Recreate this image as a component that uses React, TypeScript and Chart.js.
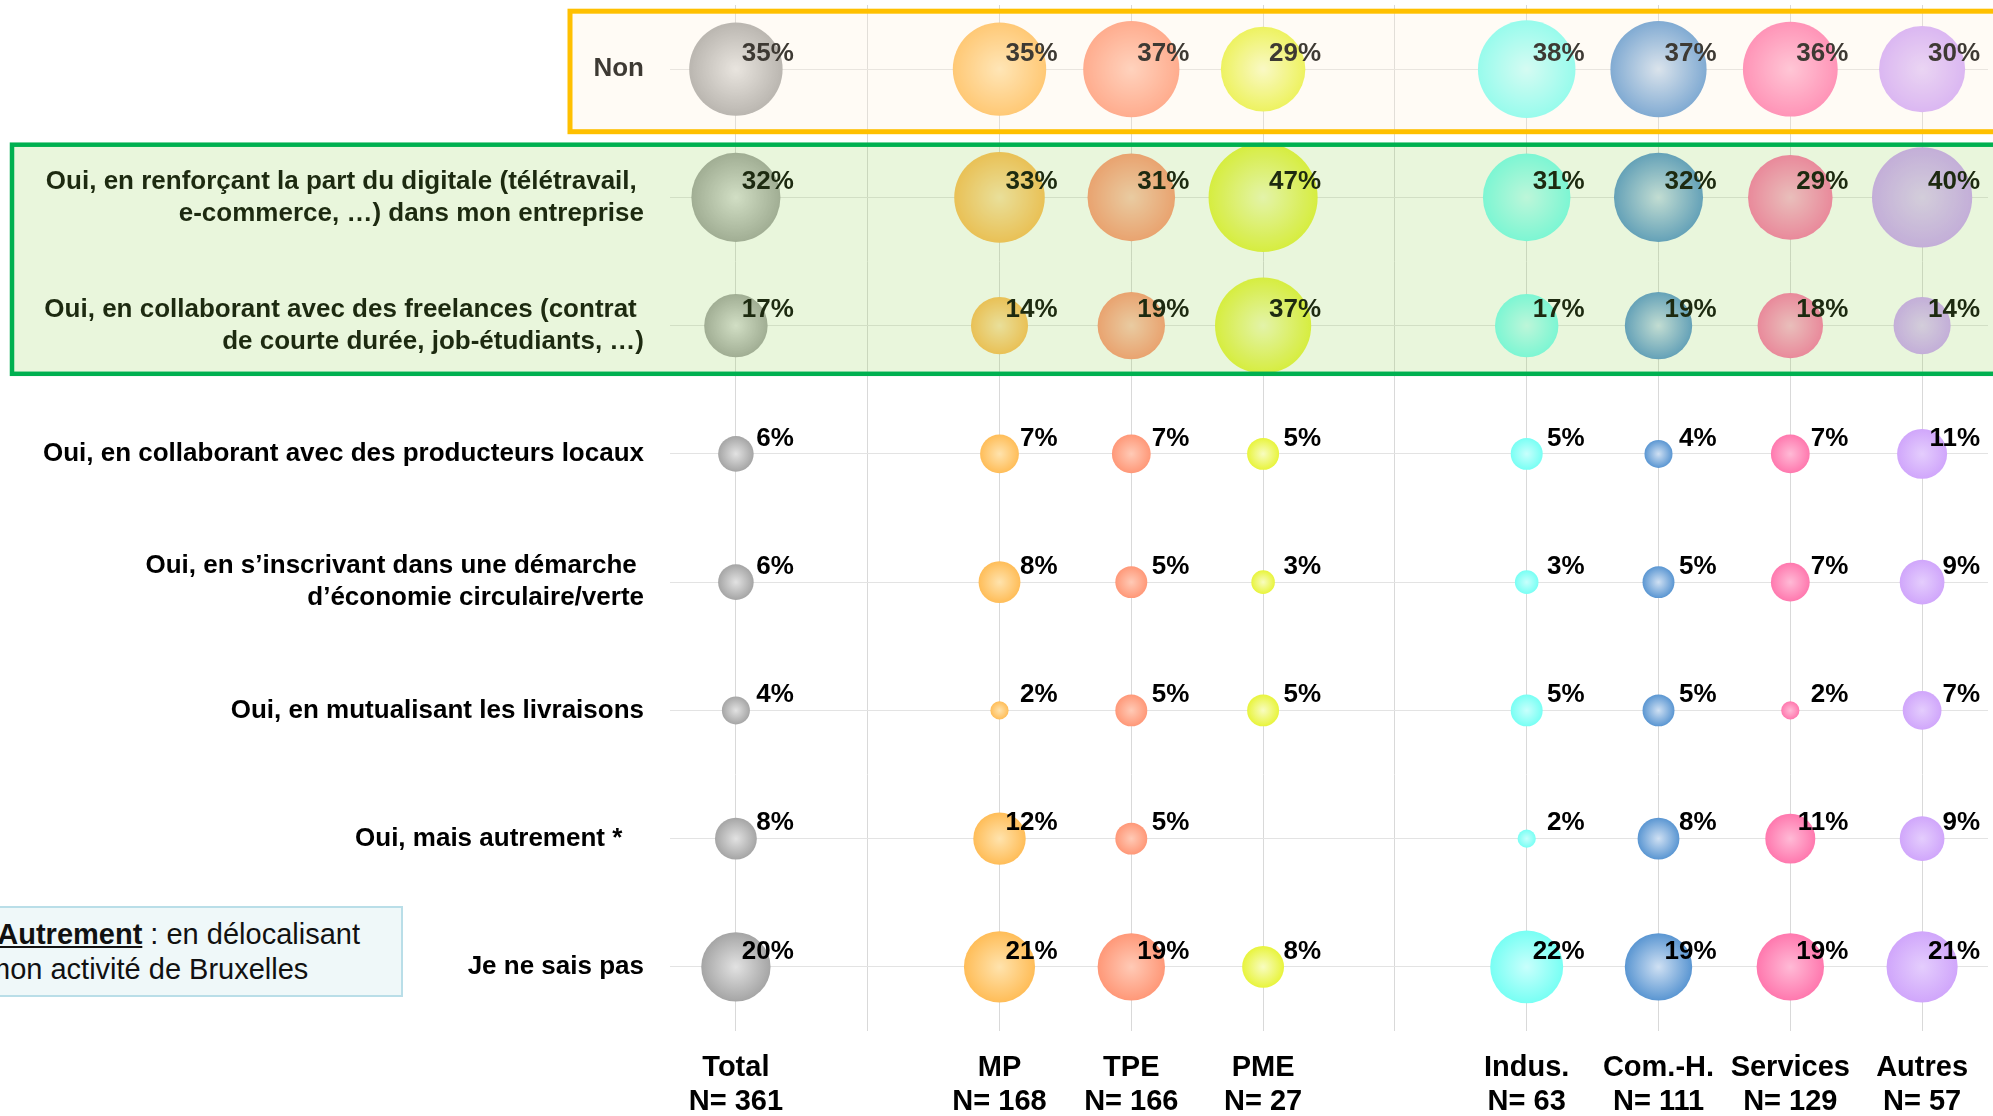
import { useEffect, useRef } from "react";
import { Chart, registerables } from "chart.js";

Chart.register(...registerables);

// ---------- DATA ----------
const rowLabels: (string | string[])[] = [
  "Non",
  ["Oui, en renforçant la part du digitale (télétravail, ", "e-commerce, …) dans mon entreprise"],
  ["Oui, en collaborant avec des freelances (contrat ", "de courte durée, job-étudiants, …)"],
  "Oui, en collaborant avec des producteurs locaux",
  ["Oui, en s’inscrivant dans une démarche ", "d’économie circulaire/verte"],
  "Oui, en mutualisant les livraisons",
  "Oui, mais autrement *   ",
  "Je ne sais pas",
];

const columnLabels: (string | string[])[] = [
  ["Total", "N= 361"],
  "",
  ["MP", "N= 168"],
  ["TPE", "N= 166"],
  ["PME", "N= 27"],
  "",
  ["Indus.", "N= 63"],
  ["Com.-H.", "N= 111"],
  ["Services", "N= 129"],
  ["Autres", "N= 57"],
];

const seriesNames = ["Total", "MP", "TPE", "PME", "Indus.", "Com.-H.", "Services", "Autres"];
const seriesColumn = [0, 2, 3, 4, 6, 7, 8, 9];

const total = [35, 32, 17, 6, 6, 4, 8, 20];
const mp = [35, 33, 14, 7, 8, 2, 12, 21];
const tpe = [37, 31, 19, 7, 5, 5, 5, 19];
const pme = [29, 47, 37, 5, 3, 5, null, 8];
const indus = [38, 31, 17, 5, 3, 5, 2, 22];
const comh = [37, 32, 19, 4, 5, 5, 8, 19];
const services = [36, 29, 18, 7, 7, 2, 11, 19];
const autres = [30, 40, 14, 11, 9, 7, 9, 21];

const seriesValues: (number | null)[][] = [total, mp, tpe, pme, indus, comh, services, autres];

// ---------- STYLE ----------
const edgeColors = ["#a5a5a5", "#ffbd58", "#ff9878", "#e8f43c", "#78fff4", "#5a96d2", "#ff78ae", "#d0a6fb"];
const centerColors = ["#e2e2e2", "#ffe3ad", "#ffcab6", "#f8fcc0", "#c8fffc", "#cfe0f3", "#ffbad6", "#e4cdfd"];

const FONT = "'Liberation Sans', Arial, Helvetica, sans-serif";

const bubbleRadius = (v: number) => Math.max(4, 8.35 * Math.sqrt(v) - 2.7);

const labelPlugin = {
  id: "valueLabels",
  afterDatasetsDraw(chart: any) {
    const ctx = chart.ctx;
    ctx.save();
    ctx.font = `bold 26px ${FONT}`;
    ctx.textAlign = "right";
    ctx.textBaseline = "middle";
    ctx.fillStyle = "#000";
    chart.data.datasets.forEach((ds: any, i: number) => {
      const meta = chart.getDatasetMeta(i);
      meta.data.forEach((el: any, j: number) => {
        const raw = ds.data[j];
        if (!raw || raw.v == null) return;
        ctx.fillText(`${raw.v}%`, el.x + 58, el.y - 15.5);
      });
    });
    ctx.restore();
  },
};

const boxPlugin = {
  id: "highlightBoxes",
  afterDraw(chart: any) {
    const ctx = chart.ctx;
    const W = chart.width;
    ctx.save();
    // orange box ("Non")
    ctx.fillStyle = "rgba(255,240,215,0.24)";
    ctx.fillRect(570, 11, W + 20 - 570, 121);
    ctx.strokeStyle = "#FFC000";
    ctx.lineWidth = 5;
    ctx.strokeRect(570, 11.2, W + 20 - 570, 120.5);
    // green box
    ctx.fillStyle = "rgba(146,208,80,0.2)";
    ctx.fillRect(12, 144.7, W + 20 - 12, 229);
    ctx.strokeStyle = "#00B050";
    ctx.lineWidth = 4.5;
    ctx.strokeRect(12, 144.7, W + 20 - 12, 229.1);
    ctx.restore();
  },
};

const zeroPadding = (scale: any) => {
  scale.paddingLeft = 0;
  scale.paddingRight = 0;
  scale.paddingTop = 0;
  scale.paddingBottom = 0;
};

export default function App() {
  const canvasRef = useRef<HTMLCanvasElement | null>(null);

  useEffect(() => {
    if (!canvasRef.current) return;
    Chart.defaults.font.family = FONT;

    const datasets = seriesNames.map((name, s) => ({
      label: name,
      data: seriesValues[s]
        .map((v, row) =>
          v == null ? null : { x: seriesColumn[s], y: row, r: bubbleRadius(v), v }
        )
        .filter((p) => p !== null),
      borderWidth: 0,
      hoverBorderWidth: 0,
      hoverRadius: 0,
      clip: false,
      backgroundColor: (c: any) => {
        if (c.type !== "data" || !c.raw) return edgeColors[s];
        const chart = c.chart;
        const xs = chart.scales.x;
        const ys = chart.scales.y;
        if (!xs || !ys) return edgeColors[s];
        const px = xs.getPixelForValue(c.raw.x);
        const py = ys.getPixelForValue(c.raw.y);
        const r = c.raw.r;
        if (!isFinite(px) || !isFinite(py)) return edgeColors[s];
        const g = chart.ctx.createRadialGradient(px, py, 0, px, py, r);
        g.addColorStop(0, centerColors[s]);
        g.addColorStop(1, edgeColors[s]);
        return g;
      },
    }));

    const chart = new Chart(canvasRef.current, {
      type: "bubble",
      data: { datasets: datasets as any },
      plugins: [labelPlugin, boxPlugin],
      options: {
        animation: false,
        responsive: false,
        maintainAspectRatio: false,
        events: [],
        layout: { autoPadding: false, padding: { top: 5, right: 5, left: 0, bottom: 0 } },
        plugins: {
          legend: { display: false },
          tooltip: { enabled: false },
        },
        scales: {
          x: {
            type: "linear",
            min: -0.5,
            max: columnLabels.length - 0.5,
            position: "bottom",
            border: { display: false },
            grid: { color: "#d9d9d9", lineWidth: 1, drawTicks: false },
            afterBuildTicks(scale: any) {
              scale.ticks = columnLabels.map((_, i) => ({ value: i }));
            },
            ticks: {
              autoSkip: false,
              maxRotation: 0,
              minRotation: 0,
              padding: 20,
              color: "#000",
              font: { size: 29, weight: "bold", family: FONT, lineHeight: 34 / 29 },
              callback: (value: any) => {
                const l = columnLabels[Math.round(Number(value))];
                return l === undefined ? "" : l;
              },
            },
            afterFit(scale: any) {
              scale.height = 85;
              zeroPadding(scale);
            },
          },
          y: {
            type: "linear",
            min: -0.5,
            max: rowLabels.length - 0.5,
            reverse: true,
            position: "left",
            border: { display: false },
            grid: { color: "#e3e3e3", lineWidth: 1, drawTicks: false },
            afterBuildTicks(scale: any) {
              scale.ticks = rowLabels.map((_, i) => ({ value: i }));
            },
            ticks: {
              autoSkip: false,
              padding: 26,
              color: "#000",
              font: { size: 26, weight: "bold", family: FONT, lineHeight: 32 / 26 },
              callback: (value: any) => {
                const l = rowLabels[Math.round(Number(value))];
                return l === undefined ? "" : l;
              },
            },
            afterFit(scale: any) {
              scale.width = 670;
              zeroPadding(scale);
            },
          },
        },
      } as any,
    });

    return () => {
      chart.destroy();
    };
  }, []);

  return (
    <div
      style={{
        position: "fixed",
        left: 0,
        top: 0,
        width: 1993,
        height: 1116,
        overflow: "hidden",
        background: "#ffffff",
      }}
    >
      <canvas
        ref={canvasRef}
        width={1993}
        height={1116}
        style={{ position: "absolute", left: 0, top: 0, width: 1993, height: 1116 }}
      />
      <div
        style={{
          position: "absolute",
          left: -6,
          top: 906,
          width: 409,
          height: 91,
          boxSizing: "border-box",
          background: "#eff8f9",
          border: "2px solid #b9dee8",
        }}
      />
      <div
        style={{
          position: "absolute",
          left: -14,
          top: 917,
          fontFamily: FONT,
          fontSize: 29,
          lineHeight: "35px",
          color: "#111",
          whiteSpace: "nowrap",
        }}
      >
        <b>*</b>
        <b style={{ textDecoration: "underline" }}>Autrement</b> : en délocalisant
        <br />
        mon activité de Bruxelles
      </div>
    </div>
  );
}
